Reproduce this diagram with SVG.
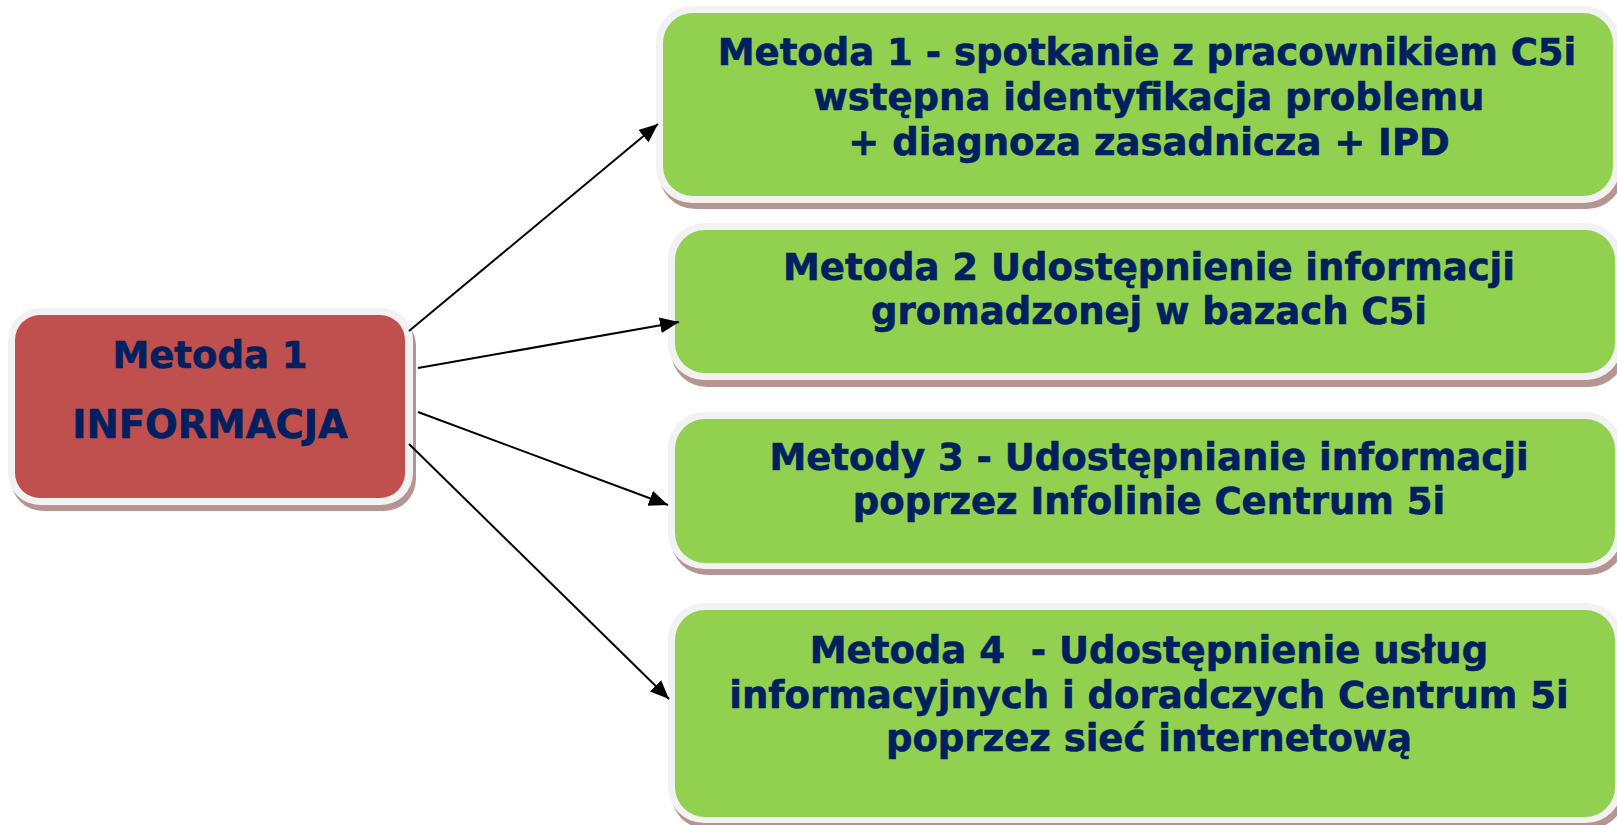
<svg xmlns="http://www.w3.org/2000/svg" width="1617" height="825" viewBox="0 0 1617 825">
<style>
.shadow{fill:#b59491}
.border{fill:#f2f2f2}
.green{fill:#92d050}
.red{fill:#c0504d}
.t{font-family:"DejaVu Sans","Verdana",sans-serif;font-weight:bold;font-size:37px;fill:#002060;stroke:#002060;stroke-width:0.6;text-anchor:middle;white-space:pre}
.conn{stroke:#000;stroke-width:2;fill:none;marker-end:url(#arrow)}
</style>
<defs>
<marker id="arrow" markerUnits="userSpaceOnUse" markerWidth="20" markerHeight="16" refX="19" refY="8" orient="auto">
<path d="M0,0 L19,8 L0,16 z" fill="#000"/>
</marker>
</defs>
<rect width="1617" height="825" fill="#fff"/>
<g id="node-informacja">
<rect class="shadow" x="11" y="314" width="405" height="197" rx="32"/>
<rect class="border" x="8" y="308" width="405" height="197" rx="32"/>
<rect class="red" x="15" y="315" width="390" height="183" rx="25"/>
<text class="t" x="210" y="368">Metoda 1</text>
<text class="t" x="210" y="438" style="font-size:38.5px">INFORMACJA</text>
</g>
<g id="node-metoda1">
<rect class="shadow" x="659" y="12" width="964" height="197" rx="36"/>
<rect class="border" x="656" y="6" width="964" height="197" rx="36"/>
<rect class="green" x="663" y="13" width="950" height="183" rx="30"/>
<text class="t" x="1147" y="65">Metoda 1 - spotkanie z pracownikiem C5i</text>
<text class="t" x="1149" y="110">wstępna identyfikacja problemu</text>
<text class="t" x="1149" y="155">+ diagnoza zasadnicza + IPD</text>
</g>
<g id="node-metoda2">
<rect class="shadow" x="671" y="229" width="954" height="158" rx="36"/>
<rect class="border" x="668" y="223" width="954" height="157" rx="36"/>
<rect class="green" x="675" y="230" width="940" height="143" rx="30"/>
<text class="t" x="1149" y="280">Metoda 2 Udostępnienie informacji</text>
<text class="t" x="1149" y="324">gromadzonej w bazach C5i</text>
</g>
<g id="node-metoda3">
<rect class="shadow" x="671" y="418" width="954" height="157" rx="36"/>
<rect class="border" x="668" y="412" width="954" height="157" rx="36"/>
<rect class="green" x="675" y="419" width="940" height="144" rx="30"/>
<text class="t" x="1149" y="470">Metody 3 - Udostępnianie informacji</text>
<text class="t" x="1149" y="514">poprzez Infolinie Centrum 5i</text>
</g>
<g id="node-metoda4">
<rect class="shadow" x="671" y="609" width="954" height="220" rx="36"/>
<rect class="border" x="668" y="603" width="954" height="220" rx="36"/>
<rect class="green" x="675" y="610" width="940" height="207" rx="30"/>
<text class="t" x="1149" y="663">Metoda 4  - Udostępnienie usług</text>
<text class="t" x="1149" y="708">informacyjnych i doradczych Centrum 5i</text>
<text class="t" x="1149" y="751">poprzez sieć internetową</text>
</g>
<g id="connectors">
<line class="conn" x1="409" y1="331" x2="658" y2="124"/>
<line class="conn" x1="418" y1="368" x2="679" y2="322"/>
<line class="conn" x1="418" y1="412" x2="668" y2="505"/>
<line class="conn" x1="409" y1="444" x2="669" y2="699"/>
</g>
</svg>
